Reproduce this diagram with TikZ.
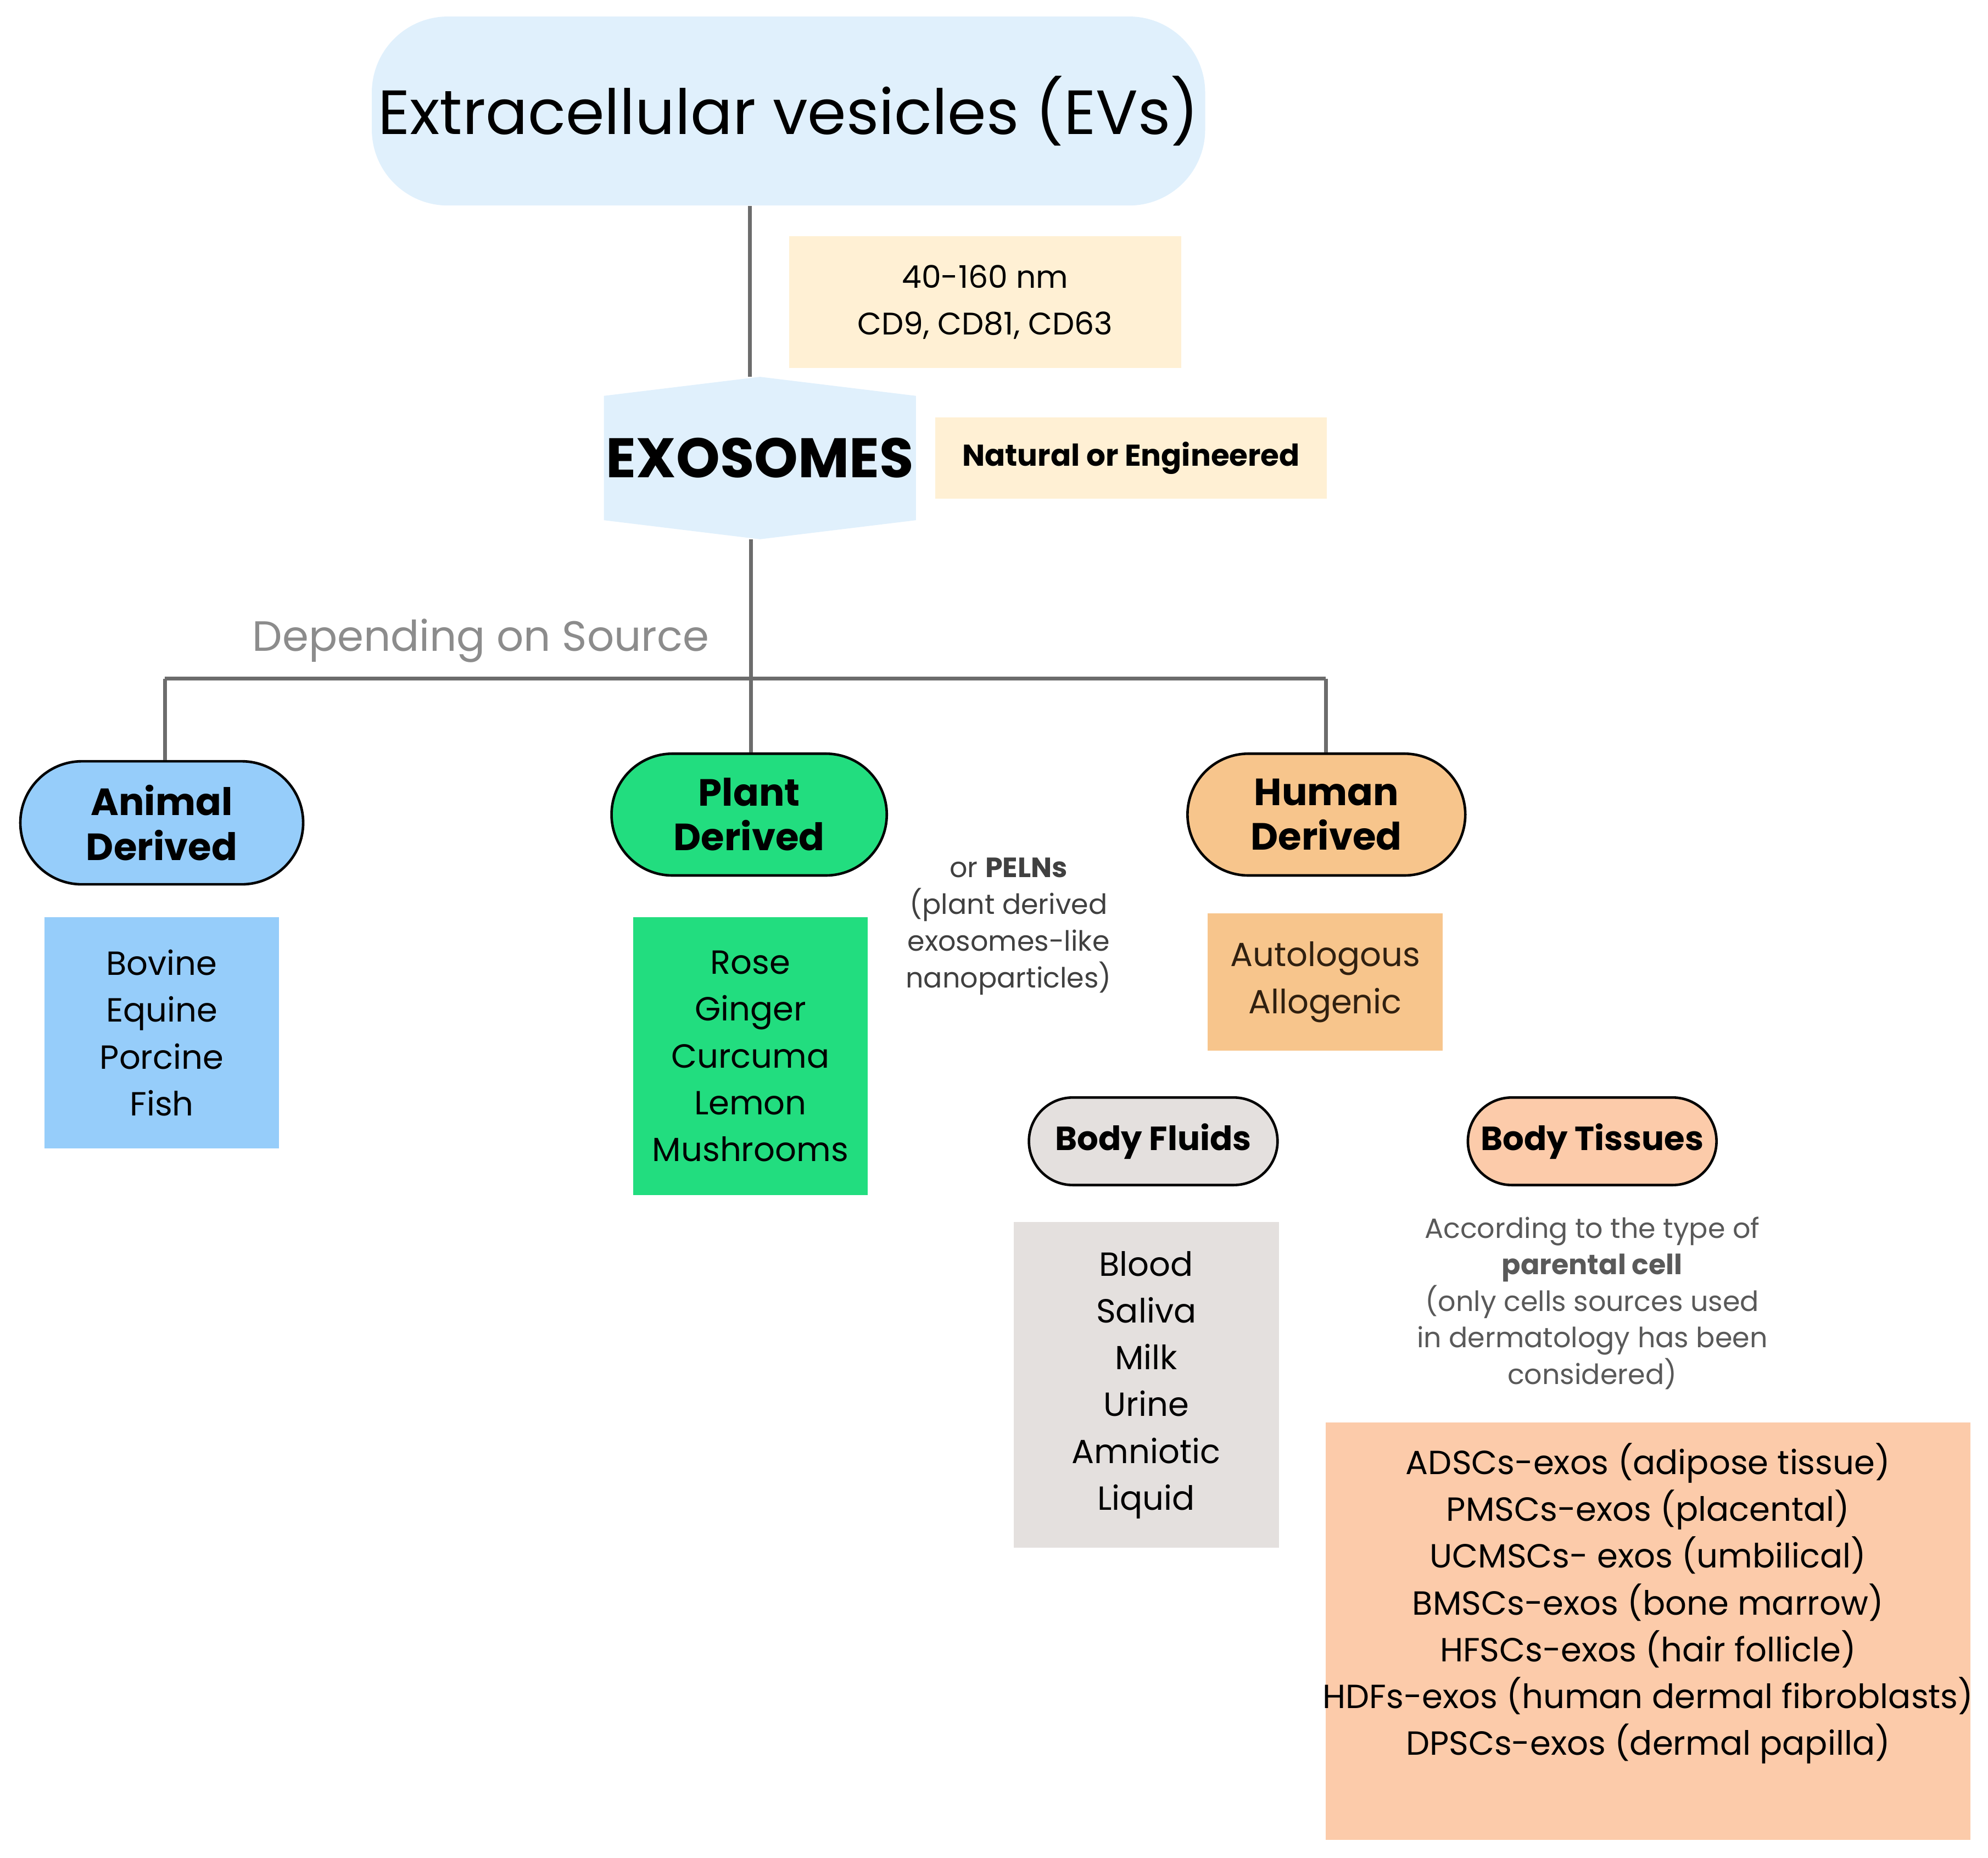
\documentclass[tikz,border=0pt]{standalone}
\usepackage{fontspec}
\setmainfont{Poppins}
\begin{document}
\begin{tikzpicture}[x=0.02cm,y=-0.02cm,
  fs/.style 2 args={font=\fontsize{#1}{#2}\selectfont},
  conn/.style={draw=gray!85!black, line width=0.06cm},
  box/.style={inner sep=0pt, align=center},
  pill/.style={draw=black, line width=0.04cm, inner sep=0pt, align=center, font=\fontsize{17}{20}\selectfont\bfseries}]
\useasboundingbox (0,0) rectangle (1567,1464);
\definecolor{evblue}{HTML}{E0F0FC}
\definecolor{ybox}{HTML}{FFF0D4}
\definecolor{ablue}{HTML}{96CDFA}
\definecolor{pgreen}{HTML}{22DD7F}
\definecolor{horange}{HTML}{F7C58C}
\definecolor{fgray}{HTML}{E4E0DE}
\definecolor{tpeach}{HTML}{FCCBAA}
\definecolor{lgray}{HTML}{8C8C8C}

\node[box, fill=evblue, rounded corners=1.2cm, minimum width=13.14cm, minimum height=2.98cm, fs={28}{32}] (ev) at (621.5,87.5) {Extracellular vesicles (EVs)};
\node[box, fill=ybox, minimum width=6.18cm, minimum height=2.08cm, fs={14}{21}] (size) at (776.5,238) {40-160 nm\\CD9, CD81, CD63};
\fill[evblue] (476,312) -- (599,297) -- (722,312) -- (722,410) -- (599,425) -- (476,410) -- cycle;
\node[box, fs={25}{28}, font=\bfseries] (exo) at (599,361) {\fontsize{25}{28}\selectfont\bfseries EXOSOMES};
\coordinate (exotop) at (591,297);
\coordinate (exobot) at (592,425);
\node[box, fill=ybox, minimum width=6.18cm, minimum height=1.28cm] (nat) at (891.5,361) {\fontsize{13.5}{16}\selectfont\bfseries Natural or Engineered};

\coordinate (hL) at (130,535);
\coordinate (hM) at (592,535);
\coordinate (hR) at (1045,535);
\node[box, text=lgray, fs={19}{22}] (dep) at (379,505) {Depending on Source};

\node[pill, fill=ablue, rounded corners=0.97cm, minimum width=4.46cm, minimum height=1.94cm] (animal) at (127.5,648.5) {Animal\\Derived};
\node[pill, fill=pgreen, rounded corners=0.96cm, minimum width=4.34cm, minimum height=1.92cm] (plant) at (590.5,642) {Plant\\Derived};
\node[pill, fill=horange, rounded corners=0.96cm, minimum width=4.38cm, minimum height=1.92cm] (human) at (1045.5,642) {Human\\Derived};

\draw[conn] (ev.south -| exotop) -- (exotop);
\draw[conn] (exobot) -- (hM);
\draw[conn] (hL) -- (hR);
\draw[conn] (hL) -- (animal.north -| hL);
\draw[conn] (hM) -- (plant.north -| hM);
\draw[conn] (hR) -- (human.north -| hR);

\node[box, fill=ablue, minimum width=3.7cm, minimum height=3.64cm, fs={15}{21}] (alist) at (127.5,814) {Bovine\\Equine\\Porcine\\Fish};
\node[box, fill=pgreen, minimum width=3.7cm, minimum height=4.38cm, fs={15}{21}] (plist) at (591.5,832.5) {Rose\\Ginger\\Curcuma\\Lemon\\Mushrooms};
\node[box, text=black!75, fs={12.5}{16.5}] (peln) at (795,730) {or \textbf{PELNs}\\(plant derived\\exosomes-like\\nanoparticles)};
\node[box, fill=horange, text=black!75!brown, minimum width=3.7cm, minimum height=2.16cm, fs={15}{21}] (hlist) at (1044.5,774) {Autologous\\Allogenic};

\node[pill, fill=fgray, rounded corners=0.69cm, minimum width=3.92cm, minimum height=1.38cm, font=\fontsize{15}{18}\selectfont\bfseries] (fluids) at (909,899.5) {Body Fluids};
\node[pill, fill=tpeach, rounded corners=0.69cm, minimum width=3.92cm, minimum height=1.38cm, font=\fontsize{15}{18}\selectfont\bfseries] (tissues) at (1255,899.5) {Body Tissues};

\node[box, fill=fgray, minimum width=4.18cm, minimum height=5.14cm, fs={15}{21}] (flist) at (903.5,1091.5) {Blood\\Saliva\\Milk\\Urine\\Amniotic\\Liquid};
\node[box, text=black!65, fs={12.5}{16.4}] (tdesc) at (1255,1027) {According to the type of\\\textbf{parental cell}\\(only cells sources used\\in dermatology has been\\considered)};
\node[box, fill=tpeach, minimum width=10.16cm, minimum height=6.58cm] (tlist) at (1299,1285.5) {};
\node[box, fs={15}{21}, anchor=north] (tlisttext) at (1299,1137) {ADSCs-exos (adipose tissue)\\PMSCs-exos (placental)\\UCMSCs- exos (umbilical)\\BMSCs-exos (bone marrow)\\HFSCs-exos (hair follicle)\\HDFs-exos (human dermal fibroblasts)\\DPSCs-exos (dermal papilla)};
\end{tikzpicture}
\end{document}
